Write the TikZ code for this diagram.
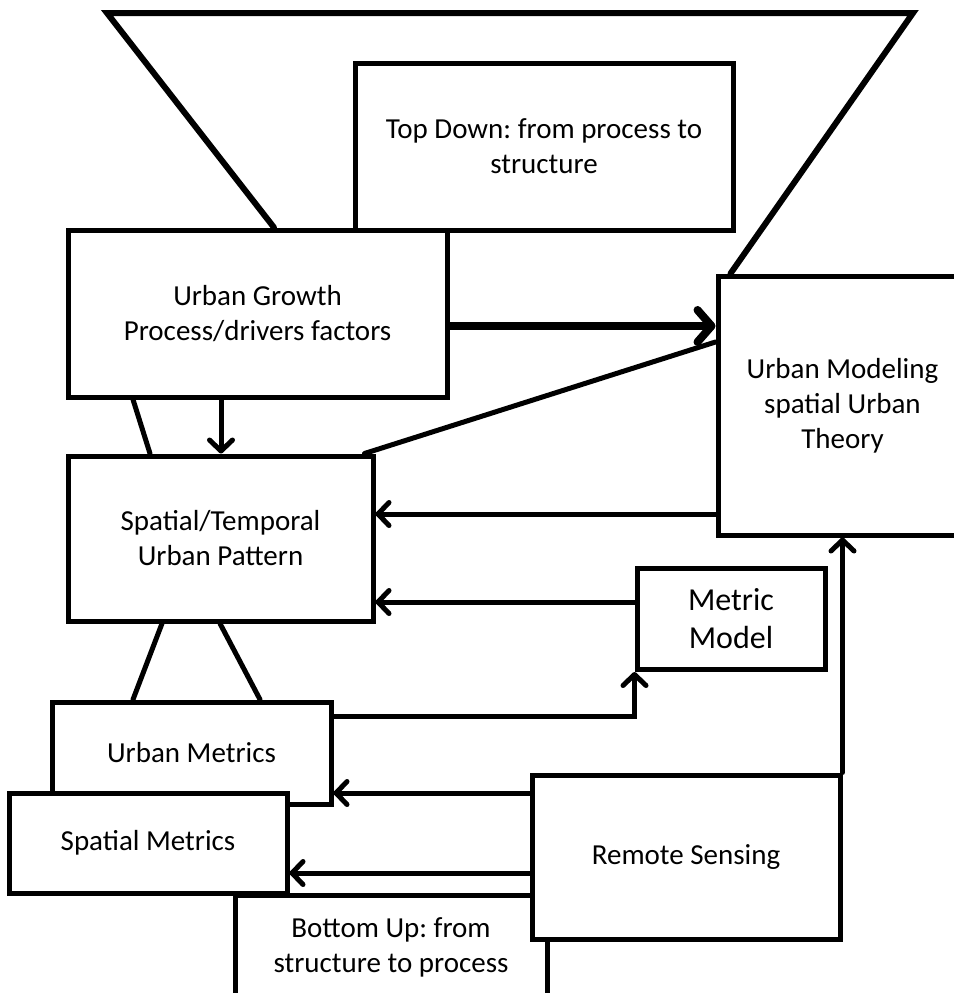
\documentclass[tikz,border=0pt]{standalone}
\usepackage{fontspec}
\setmainfont{Carlito}
\frenchspacing
\usetikzlibrary{arrows.meta,positioning,calc}

\tikzset{
  panel/.style={draw, line width=5pt, fill=white, align=center, inner sep=0pt,
    font=\fontsize{29}{35}\selectfont},
  link/.style={line width=5pt, line cap=round},
  arr/.style={link, -{Straight Barb[length=11pt,width=23pt,round]}},
  bigarr/.style={line width=8pt, -{Straight Barb[length=14pt,width=32pt,round]}},
}

\begin{document}
\begin{tikzpicture}[x=1pt,y=-1pt]
    \useasboundingbox (0,0) rectangle (953,993);

    \node[panel, minimum width=378pt, minimum height=167pt] (topdown) at (544,146.5) {Top Down: from process to\\structure};
    \node[panel, minimum width=249pt, minimum height=259pt] (modeling) at (842.5,405.5) {Urban Modeling\\spatial Urban\\Theory};
    \node[panel, minimum width=379pt, minimum height=167pt] (growth) at (257.5,313.5) {Urban Growth\\Process/drivers factors};
    \node[panel, minimum width=305pt, minimum height=165pt] (pattern) at (220.5,538.5) {Spatial/Temporal\\Urban Pattern};
    \node[panel, minimum width=188pt, minimum height=101pt, font=\fontsize{32}{38}\selectfont] (metric) at (731,619) {Metric\\Model};

    % funnel at the top
    \coordinate (apexL) at (107,13);
    \coordinate (apexR) at (913,13);
    \draw[link, line width=6pt, line join=miter] ([xshift=16.5pt]growth.north) -- (apexL) -- (apexR) -- ([xshift=15pt]modeling.north west);

    % lower part
    \node[panel, minimum width=312pt, minimum height=105pt] (bottomup) at (391,947.5) {Bottom Up: from\\structure to process};
    \node[panel, minimum width=279pt, minimum height=102pt] (umetrics) at (191.5,753) {Urban Metrics};
    \node[panel, minimum width=278pt, minimum height=100pt] (smetrics) at (148,843) {Spatial Metrics};
    \node[panel, minimum width=308pt, minimum height=164pt] (sensing) at (686,857) {Remote Sensing};

    % connectors
    \coordinate (g1) at ([yshift=-12.5pt]growth.east);
    \draw[bigarr] (g1) -- (g1 -| modeling.west);
    \draw[link] ([yshift=63.5pt]modeling.west) -- ([xshift=-11pt]pattern.north east);
    \coordinate (g2) at ([xshift=-36.5pt]growth.south);
    \draw[arr] (g2) -- (g2 |- pattern.north);
    \draw[link] ([xshift=-124.5pt]growth.south) -- ([xshift=-70.5pt]pattern.north);

    \coordinate (p1) at ([yshift=24.5pt]pattern.east);
    \draw[arr] (p1 -| modeling.west) -- (p1);
    \coordinate (m1) at ([yshift=17pt]metric.west);
    \draw[arr] (m1) -- (m1 -| pattern.east);

    \draw[link] ([xshift=-58.5pt]pattern.south) -- ([xshift=-58.5pt]umetrics.north);
    \draw[link] ([xshift=-0.5pt]pattern.south) -- ([xshift=68.5pt]umetrics.north);

    \coordinate (u1) at ([yshift=37pt]umetrics.east);
    \draw[arr] (u1) -| (metric.south west);
    \coordinate (u2) at ([yshift=-40pt]umetrics.east);
    \draw[arr] (u2 -| sensing.west) -- (u2);
    \coordinate (s1) at ([yshift=-30pt]smetrics.east);
    \draw[arr] (s1 -| sensing.west) -- (s1);
    \draw[arr] (sensing.north east) -- (sensing.north east |- modeling.south);
\end{tikzpicture}
\end{document}
